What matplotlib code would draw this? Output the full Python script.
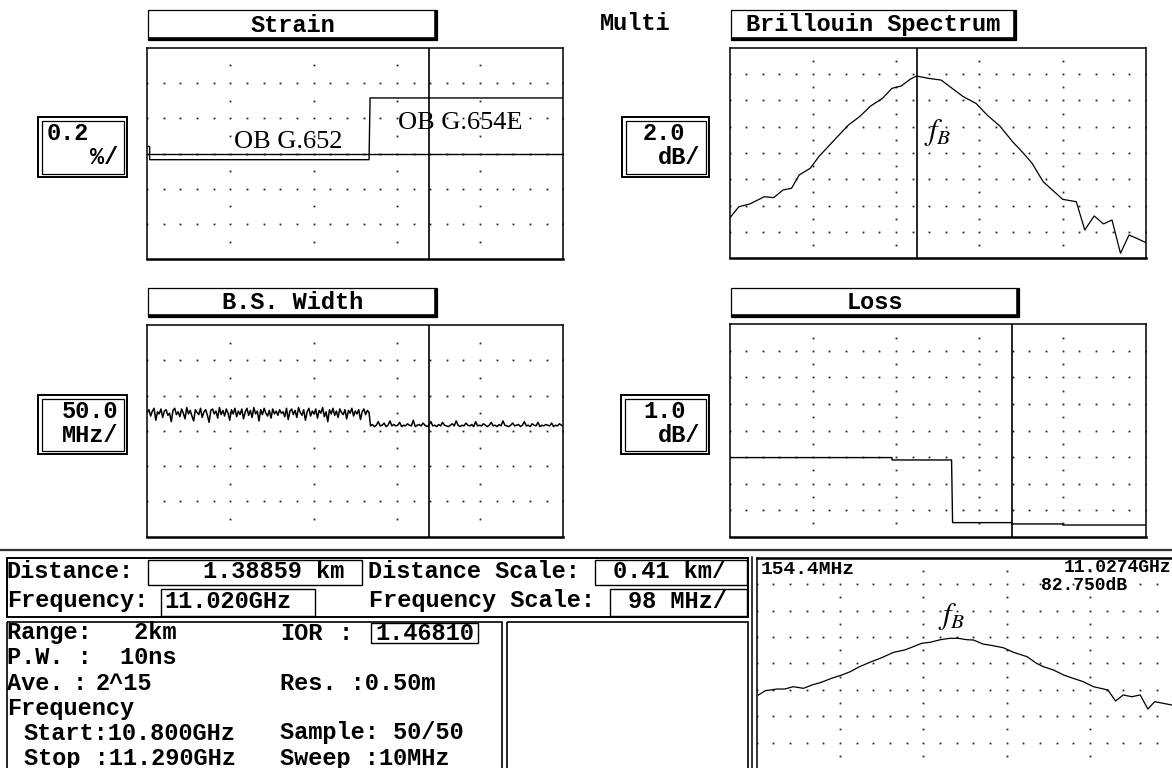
import numpy as np
import matplotlib
matplotlib.use("Agg")
import matplotlib.pyplot as plt
from matplotlib.patches import Rectangle

plt.rcParams["mathtext.fontset"] = "stix"

W, H = 1172, 768
MONO = "Liberation Mono"

# distance axis: 0.41 km/div, 5 div ; frequency axis 98 MHz/div
dist_span_km = 2.05
cursor_km = 1.38859
freq_start_ghz = 10.800
freq_stop_ghz = 11.290
cursor_ghz = 11.020

# strain (%), 0.2 %/div
strain_km = [0.000, 0.012, 0.012, 1.093, 1.098, 2.050]
strain_pct = [0.040, 0.040, -0.035, -0.035, 0.315, 0.315]

# Brillouin spectrum at the cursor (relative dB, 2 dB/div)
spec_ghz = [10.800, 10.811, 10.824, 10.841, 10.852, 10.863, 10.873, 10.882, 10.895, 10.905,
            10.916, 10.927, 10.940, 10.953, 10.966, 10.980, 10.991, 11.002, 11.013, 11.020,
            11.034, 11.049, 11.062, 11.075, 11.090, 11.103, 11.118, 11.133, 11.146, 11.156,
            11.169, 11.182, 11.192, 11.208, 11.218, 11.229, 11.240, 11.250, 11.260, 11.270,
            11.279, 11.290]
spec_db = [3.04, 3.92, 4.13, 4.68, 4.61, 5.19, 5.32, 6.33, 6.84, 7.72,
           8.48, 9.24, 10.13, 10.76, 11.57, 12.15, 12.91, 13.09, 13.62, 13.85,
           13.67, 13.54, 12.91, 12.28, 11.77, 10.89, 10.05, 8.86, 7.97, 7.22,
           5.82, 5.06, 4.48, 4.30, 2.15, 3.22, 2.61, 2.91, 0.38, 1.77,
           1.52, 1.19]

# B.S. width (MHz), 50 MHz/div : G.652 section, then G.654E section
bsw_g652 = [176, 180, 171, 178, 182, 165, 177, 174, 181, 169,
            178, 180, 172, 175, 163, 179, 182, 173, 177, 170,
            181, 175, 167, 183, 174, 179, 171, 164, 180, 176,
            173, 182, 169, 177, 180, 172, 162, 179, 181, 174,
            178, 168, 183, 173, 179, 171, 181, 175, 165, 180,
            174, 182, 170, 178, 173, 181, 167, 177, 182, 172,
            179, 169, 183, 174, 178, 164, 180, 173, 182, 175,
            171, 179, 168, 181, 174, 178, 172, 180, 175, 177,
            170, 182, 166, 178, 181, 173, 179, 169, 183, 176,
            172, 180, 165, 177, 182, 171, 178, 174, 181, 168,
            179, 175, 183, 170, 177, 163, 180, 174, 182, 172,
            178, 169, 181, 176, 173, 180, 167, 179, 175, 182,
            171, 178, 174, 180, 166, 177, 181, 173, 179, 176]
bsw_g654 = [157, 159, 156, 158, 163, 157, 158, 161, 156, 158,
            164, 157, 159, 157, 158, 162, 156, 158, 157, 160,
            158, 157, 165, 156, 158, 159, 157, 161, 158, 156,
            158, 163, 157, 158, 156, 159, 157, 162, 158, 157,
            156, 158, 160, 157, 164, 158, 156, 158, 157, 161,
            158, 157, 159, 156, 163, 157, 158, 157, 160, 158,
            156, 158, 162, 157, 158, 156, 159, 157, 164, 158,
            157, 156, 158, 161, 157, 158, 159, 156, 158, 163,
            157, 158, 156, 160, 158, 157, 162, 156, 158, 157,
            159, 158, 157, 161, 156, 158, 157, 160, 158, 157]

# loss (dB), 1 dB/div
loss_km = [0.00, 0.80, 0.80, 1.093, 1.098, 1.39, 1.39, 1.64, 1.64, 2.05]
loss_db = [2.98, 2.98, 2.89, 2.89, 0.53, 0.53, 0.48, 0.48, 0.44, 0.44]

# lower window spectrum (5 dB/div)
zoom_ghz = [10.802, 10.810, 10.824, 10.833, 10.843, 10.855, 10.865, 10.876, 10.888, 10.900,
            10.910, 10.921, 10.933, 10.947, 10.961, 10.974, 10.984, 10.994, 11.004, 11.016,
            11.027, 11.037, 11.047, 11.055, 11.066, 11.078, 11.090, 11.102, 11.118, 11.129,
            11.137, 11.149, 11.161, 11.172, 11.184, 11.196, 11.208, 11.213, 11.222, 11.231,
            11.241, 11.251, 11.260, 11.268, 11.278, 11.288]
zoom_db = [3.20, 4.00, 4.33, 4.33, 4.77, 4.46, 5.09, 5.60, 6.36, 6.98,
           7.61, 8.56, 9.39, 10.26, 11.28, 11.72, 12.34, 12.99, 13.18, 13.67,
           13.93, 13.93, 13.67, 13.61, 12.85, 12.53, 12.15, 11.28, 10.45, 9.20,
           8.56, 7.93, 6.98, 6.36, 5.72, 4.77, 4.33, 4.14, 2.06, 3.20,
           2.87, 3.20, 0.54, 1.93, 1.62, 1.30]

fig = plt.figure(figsize=(W / 100, H / 100), dpi=100)

# overlay canvas in pixel coordinates for boxes and screen text
cv = fig.add_axes([0, 0, 1, 1], zorder=10)
cv.set_xlim(0, W)
cv.set_ylim(H, 0)
cv.axis("off")


def panel(x0, y0, x1, y1):
    ax = fig.add_axes([x0 / W, 1 - y1 / H, (x1 - x0) / W, (y1 - y0) / H])
    ax.set_xticks([])
    ax.set_yticks([])
    for s in ax.spines.values():
        s.set_linewidth(1.1)
    ax.spines["bottom"].set_linewidth(1.8)
    return ax


def dots(ax, x0, x1, nx, y0, y1, ny):
    dx = (x1 - x0) / nx
    dy = (y1 - y0) / ny
    xs, ys = [], []
    for j in range(1, ny):
        for i in range(0, 5 * nx + 1):
            xs.append(x0 + i * dx / 5)
            ys.append(y0 + j * dy)
    for i in range(1, nx):
        for j in range(1, 2 * ny, 2):
            xs.append(x0 + i * dx)
            ys.append(y0 + j * dy / 2)
    ax.plot(xs, ys, ls="none", marker="s", ms=1.3, mfc="#222222", mec="none")
    ax.set_xlim(x0, x1)
    ax.set_ylim(y0, y1)


def title_box(x0, x1, y0, y1, label):
    cv.add_patch(Rectangle((x0, y0), x1 - x0, y1 - y0, fill=False, lw=0.9, ec="black"))
    cv.plot([x1 - 1.5, x1 - 1.5], [y0 + 1, y1], color="black", lw=2.6, solid_capstyle="butt")
    cv.plot([x0 + 1, x1], [y1 - 1.5, y1 - 1.5], color="black", lw=2.6, solid_capstyle="butt")
    cv.text((x0 + x1) / 2, (y0 + y1) / 2, label, ha="center", va="center",
            fontfamily=MONO, fontweight="bold", fontsize=17)


def scale_box(x0, x1, y0, y1, top, bottom, top_x):
    cv.add_patch(Rectangle((x0, y0), x1 - x0, y1 - y0, fill=False, lw=1.4, ec="black"))
    cv.add_patch(Rectangle((x0 + 3.5, y0 + 3.5), x1 - x0 - 7, y1 - y0 - 7, fill=False, lw=0.9, ec="black"))
    cv.text(top_x, y0 + 16, top, ha="left", va="center",
            fontfamily=MONO, fontweight="bold", fontsize=17)
    cv.text(x1 - 9, y0 + 40, bottom, ha="right", va="center",
            fontfamily=MONO, fontweight="bold", fontsize=17)


def label(x, y, s, size=17, ha="left"):
    cv.text(x, y, s, ha=ha, va="center", fontfamily=MONO, fontweight="bold", fontsize=size)


# ---------------- Strain ----------------
ax = panel(147.2, 47.7, 563.3, 259.3)
dots(ax, 0, dist_span_km, 5, -0.6, 0.6, 6)
ax.axhline(0, color="black", lw=1.0)
ax.axvline(cursor_km, color="black", lw=1.2)
ax.plot(strain_km, strain_pct, color="black", lw=1.0)
title_box(148, 437, 10, 40, "Strain")
scale_box(38, 127, 117, 177, "0.2", "%/", 47)
cv.text(234, 148, "OB G.652", fontfamily="Liberation Serif", fontsize=19, va="baseline")
cv.text(398, 129, "OB G.654E", fontfamily="Liberation Serif", fontsize=19, va="baseline")

label(600, 24, "Multi")

# ---------------- Brillouin Spectrum ----------------
ax = panel(729.5, 47.7, 1146, 258.3)
dots(ax, freq_start_ghz, freq_stop_ghz, 5, 0, 16, 8)
ax.axvline(cursor_ghz, color="black", lw=1.2)
ax.plot(spec_ghz, spec_db, color="black", lw=0.9)
title_box(731, 1016, 10, 40, "Brillouin Spectrum")
scale_box(622, 709, 117, 177, "2.0", "dB/", 643)
cv.text(924, 133, "$f_B$", fontsize=22, ha="left", va="center")

# ---------------- B.S. Width ----------------
ax = panel(147.2, 325, 563.3, 536.7)
dots(ax, 0, dist_span_km, 5, 0, 300, 6)
ax.axvline(cursor_km, color="black", lw=1.2)
bs_km = np.concatenate([np.linspace(0.0, 1.093, len(bsw_g652)),
                        np.linspace(1.100, dist_span_km, len(bsw_g654))])
ax.plot(bs_km, bsw_g652 + bsw_g654, color="black", lw=1.1)
title_box(148, 437, 288, 317, "B.S. Width")
scale_box(38, 127, 395, 454, "50.0", "MHz/", 62)

# ---------------- Loss ----------------
ax = panel(729.5, 324.3, 1146, 536.7)
dots(ax, 0, dist_span_km, 5, 0, 8, 8)
ax.axvline(cursor_km, color="black", lw=1.2)
ax.plot(loss_km, loss_db, color="black", lw=1.0)
title_box(731, 1019, 288, 317, "Loss")
scale_box(621, 709, 395, 454, "1.0", "dB/", 643)

# ---------------- bottom status area ----------------
cv.plot([0, W], [550, 550], color="#333333", lw=1.6)

cv.add_patch(Rectangle((7, 558), 741, 58.5, fill=False, lw=1.4, ec="black"))
cv.add_patch(Rectangle((147.5, 559.5), 214, 25.5, fill=False, lw=1.0, ec="black"))
cv.add_patch(Rectangle((595, 559.5), 152, 25.5, fill=False, lw=1.0, ec="black"))
cv.add_patch(Rectangle((161, 588.5), 154, 27, fill=False, lw=1.0, ec="black"))
cv.add_patch(Rectangle((610, 588.5), 137, 27, fill=False, lw=1.0, ec="black"))
label(7, 572, "Distance:")
label(344, 572, "1.38859 km", ha="right")
label(368, 572, "Distance Scale:")
label(613, 572, "0.41 km/")
label(7, 601, "Frequency:")
label(164, 601, "11.020GHz")
label(369, 601, "Frequency Scale:")
label(628, 601, "98 MHz/")

cv.add_patch(Rectangle((7, 621.5), 494.5, 160, fill=False, lw=1.2, ec="black"))
cv.add_patch(Rectangle((506.5, 621.5), 241.5, 160, fill=False, lw=1.2, ec="black"))
cv.add_patch(Rectangle((371, 623), 106.5, 19.5, fill=False, lw=1.0, ec="black"))
rows = [633, 658, 683, 708, 733, 758]
label(7, rows[0], "Range:   2km")
label(280, rows[0], "IOR")
label(339, rows[0], ":")
label(375, rows[0], "1.46810")
label(7, rows[1], "P.W. :  10ns")
label(7, rows[2], "Ave.")
label(73, rows[2], ":")
label(96, rows[2], "2^15")
label(280, rows[2], "Res. :0.50m")
label(7, rows[3], "Frequency")
label(24, rows[4], "Start:10.800GHz")
label(280, rows[4], "Sample: 50/50")
label(24, rows[5], "Stop :11.290GHz")
label(280, rows[5], "Sweep :10MHz")

# ---------------- lower spectrum window ----------------
cv.plot([751.7, 751.7], [557, H], color="black", lw=1.1)
ax = panel(756.7, 557.7, 1173.4, 768.9)
ax.spines["top"].set_linewidth(1.8)
dots(ax, freq_start_ghz, freq_stop_ghz, 5, -10.8, 29.2, 8)
ax.plot(zoom_ghz, zoom_db, color="black", lw=0.9)
label(761, 569, "154.4MHz", size=14)
label(1171, 568, "11.0274GHz", size=13, ha="right")
label(1041, 586, "82.750dB", size=13)
cv.text(938, 617, "$f_B$", fontsize=22, ha="left", va="center")

fig.savefig("out.png", dpi=100, facecolor="white")
